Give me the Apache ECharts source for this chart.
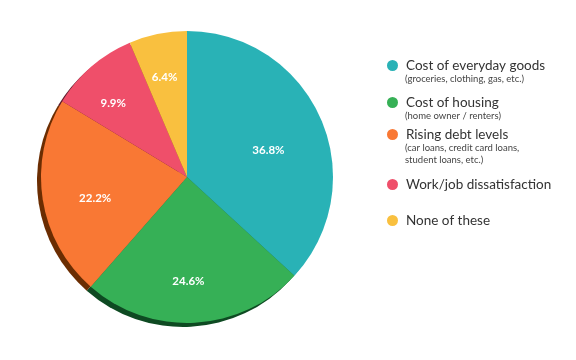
<!DOCTYPE html>
<html><head><meta charset="utf-8">
<script src="https://cdn.jsdelivr.net/npm/echarts@6/dist/echarts.min.js"></script>
<style>html,body{margin:0;padding:0;background:#fff}#c{width:576px;height:360px}</style>
</head><body><div id="c"></div>
<script>
const categories = ['Cost of everyday goods','Cost of housing','Rising debt levels','Work/job dissatisfaction','None of these'];
const subtitles = ['(groceries, clothing, gas, etc.)','(home owner / renters)','(car loans, credit card loans,\nstudent loans, etc.)','',''];
const values = [36.8, 24.6, 22.2, 9.9, 6.4];
const colors = ['#29B2B6','#36B056','#F97834','#EF4F6A','#F9C03F'];
const shadowColors = ['#176b6d','#0e4a22','#6b2d02','#5c1a2b','#8a6a10'];
const legendTops = [64, 101, 133, 183, 219];
const subTops = [79, 116, 148, 0, 0];
const labelNudges = [[-12,14],[-4,2],[9,6],[-7,3],[-2,0]];

const FONT = 'Lato, "Open Sans", sans-serif';
const chart = echarts.init(document.getElementById('c'));
const legends = categories.map((n,i)=>({
  data:[n], orient:'vertical', left:387, top:legendTops[i]-5.5, itemWidth:11, itemHeight:11,
  icon:'circle', selectedMode:false, padding:0,
  textStyle:{fontFamily:FONT, fontSize:13.5, color:'#333', padding:[2,0,0,3]}
}));
const graphics = [];
subtitles.forEach((s,i)=>{ if(!s) return;
  graphics.push({type:'text', left:405, top:subTops[i]-6, style:{text:s, fontFamily:FONT, fontSize:9.5, fill:'#444', lineHeight:12}});
});
chart.setOption({
  animation:false,
  legend: legends,
  graphic: graphics,
  series:[
    {type:'pie', name:'main', center:[187,177], radius:[0,146], startAngle:90, clockwise:true, z:3,
     label:{show:false}, labelLine:{show:false},
     data: categories.map((n,i)=>({name:n, value:values[i], itemStyle:{color:colors[i]}})),
     itemStyle:{borderWidth:0}},
    {type:'pie', name:'labels', center:[187,177], radius:[52,146], startAngle:90, clockwise:true, z:4, silent:true,
     label:{show:true, position:'inside', formatter: p=>p.value.toFixed(1)+'%', color:'#fff', fontFamily:FONT, fontWeight:'bold', fontSize:11.5},
     labelLine:{show:false}, emphasis:{disabled:true},
     data: categories.map((n,i)=>({name:n+' ', value:values[i], itemStyle:{color:'rgba(0,0,0,0)'},
       label:{offset:labelNudges[i]}}))},
    {type:'pie', name:'shadow', center:[183,181], radius:[0,146], startAngle:90, clockwise:true, z:1, silent:true,
     label:{show:false}, labelLine:{show:false},
     data: categories.map((n,i)=>({name:n+'  ', value:values[i], itemStyle:{color:shadowColors[i]}}))}
  ]
});
</script></body></html>
